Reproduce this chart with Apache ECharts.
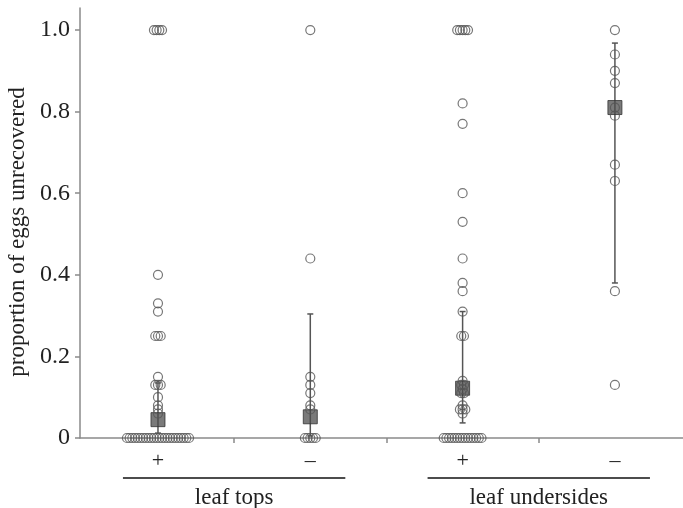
<!DOCTYPE html>
<html>
<head>
<meta charset="utf-8">
<script src="https://cdn.jsdelivr.net/npm/echarts@6/dist/echarts.min.js"></script>
<style>
html,body{margin:0;padding:0;background:#fff;}
#main{width:683px;height:508px;}
</style>
</head>
<body>
<div id="main"></div>
<script>
// ---- data ----
const categories = ['+', '–', '+', '–'];
const groupLabels = ['leaf tops', 'leaf undersides'];
const yTicks = [0, 0.2, 0.4, 0.6, 0.8, 1.0];

const topsPlus = [1, 1, 1, 1, 0.40, 0.33, 0.31, 0.25, 0.25, 0.25, 0.15, 0.13, 0.13, 0.13, 0.10, 0.08, 0.07, 0.06,
  0, 0, 0, 0, 0, 0, 0, 0, 0, 0, 0, 0, 0, 0, 0, 0, 0, 0, 0, 0, 0, 0, 0, 0];
const topsMinus = [1, 0.44, 0.15, 0.13, 0.11, 0.08, 0.07, 0, 0, 0, 0, 0];
const undersPlus = [1, 1, 1, 1, 1, 0.82, 0.77, 0.60, 0.53, 0.44, 0.38, 0.36, 0.31, 0.25, 0.25,
  0.14, 0.13, 0.13, 0.12, 0.11, 0.11, 0.08, 0.07, 0.07, 0.07, 0.06,
  0, 0, 0, 0, 0, 0, 0, 0, 0, 0, 0, 0, 0, 0, 0];
const undersMinus = [1, 0.94, 0.90, 0.87, 0.81, 0.79, 0.67, 0.63, 0.36, 0.13];

const means = [0.045, 0.052, 0.122, 0.81];
const ciLow = [0.012, 0.005, 0.037, 0.38];
const ciHigh = [0.135, 0.304, 0.31, 0.968];

// ---- build ----
const groups = [topsPlus, topsMinus, undersPlus, undersMinus];
const STEP = 2.7; // px between duplicate points
const pointData = [];
groups.forEach((vals, gi) => {
  const counts = {};
  vals.forEach(v => { counts[v] = (counts[v] || 0) + 1; });
  const seen = {};
  vals.forEach(v => {
    const n = counts[v];
    const i = seen[v] || 0;
    seen[v] = i + 1;
    pointData.push({ value: [gi, v], symbolOffset: [(i - (n - 1) / 2) * STEP, 0] });
  });
});

const serif = 'Liberation Serif, DejaVu Serif, serif';
const chart = echarts.init(document.getElementById('main'), null, { renderer: 'canvas' });

const option = {
  animation: false,
  backgroundColor: '#fff',
  grid: { left: 80, right: 0, top: 8, bottom: 70 },
  xAxis: {
    type: 'value', min: -0.512, max: 3.447,
    splitLine: { show: false },
    axisLine: { show: true, onZero: false, lineStyle: { color: '#8a8a8a', width: 1.5 } },
    axisTick: { show: true, customValues: [0.5, 1.5, 2.5], length: 5, lineStyle: { color: '#8a8a8a', width: 1.5 } },
    axisLabel: {
      customValues: [0, 1, 2, 3],
      formatter: v => categories[Math.round(v)],
      margin: 12, color: '#222', fontFamily: serif, fontSize: 22
    }
  },
  yAxis: {
    type: 'value', min: 0, max: 1.054,
    splitLine: { show: false },
    axisLine: { show: true, onZero: false, lineStyle: { color: '#8a8a8a', width: 1.5 } },
    axisTick: { show: true, customValues: yTicks, length: 5, lineStyle: { color: '#8a8a8a', width: 1.5 } },
    axisLabel: {
      customValues: yTicks,
      formatter: v => (v === 0 ? '0' : v.toFixed(1)),
      margin: 10, color: '#222', fontFamily: serif, fontSize: 24
    }
  },
  series: [
    {
      type: 'custom',
      z: 2,
      data: means.map((m, i) => [i, ciLow[i], ciHigh[i]]),
      renderItem: function (params, api) {
        const x = api.value(0);
        const lo = api.coord([x, api.value(1)]);
        const hi = api.coord([x, api.value(2)]);
        const st = { stroke: '#555', lineWidth: 1.5 };
        return {
          type: 'group',
          children: [
            { type: 'line', shape: { x1: lo[0], y1: lo[1], x2: hi[0], y2: hi[1] }, style: st },
            { type: 'line', shape: { x1: lo[0] - 3, y1: lo[1], x2: lo[0] + 3, y2: lo[1] }, style: st },
            { type: 'line', shape: { x1: hi[0] - 3, y1: hi[1], x2: hi[0] + 3, y2: hi[1] }, style: st }
          ]
        };
      }
    },
    {
      type: 'scatter',
      z: 3,
      symbol: 'rect',
      symbolSize: 14,
      data: means.map((m, i) => [i, m]),
      itemStyle: { color: 'rgba(75,75,75,0.92)', borderColor: '#333', borderWidth: 1 }
    },
    {
      type: 'scatter',
      z: 4,
      symbol: 'circle',
      symbolSize: 9,
      clip: false,
      data: pointData,
      itemStyle: { color: 'rgba(255,255,255,0)', borderColor: '#555', borderWidth: 1.2 }
    }
  ]
};
chart.setOption(option);

// group labels and underlines, placed from the axis scale
const axisY = chart.convertToPixel({ yAxisIndex: 0 }, 0);
const graphics = [];
groupLabels.forEach((lab, k) => {
  const mid = k * 2 + 0.5;
  const x1 = chart.convertToPixel({ xAxisIndex: 0 }, mid - 0.73);
  const x2 = chart.convertToPixel({ xAxisIndex: 0 }, mid + 0.73);
  graphics.push({ type: 'line', shape: { x1: x1, y1: axisY + 40, x2: x2, y2: axisY + 40 }, style: { stroke: '#111', lineWidth: 1.5 } });
  graphics.push({ type: 'text', x: (x1 + x2) / 2, y: axisY + 60,
    style: { text: lab, fill: '#222', font: '23px ' + serif, textAlign: 'center', textVerticalAlign: 'middle' } });
});
graphics.push({ type: 'text', x: 18, y: 232, rotation: Math.PI / 2,
  style: { text: 'proportion of eggs unrecovered', fill: '#222', font: '23px ' + serif, textAlign: 'center', textVerticalAlign: 'middle' } });
chart.setOption({ graphic: graphics });
</script>
</body>
</html>
